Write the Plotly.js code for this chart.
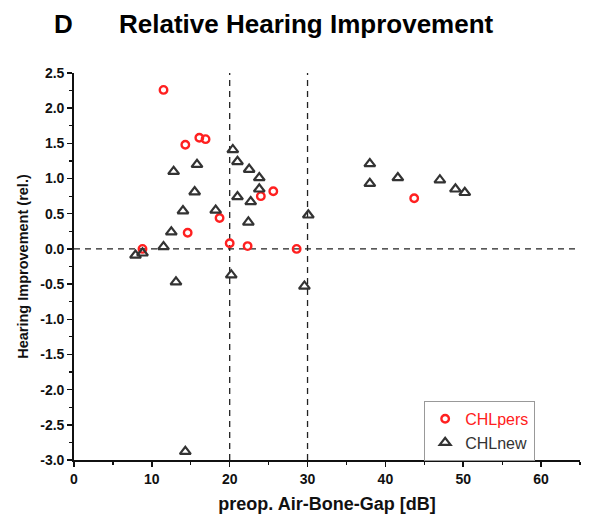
<!DOCTYPE html>
<html>
<head>
<meta charset="utf-8">
<script src="https://cdn.plot.ly/plotly-3.0.1.min.js"></script>
<style>html,body{margin:0;padding:0;background:#fff;}#chart{width:592px;height:522px;}</style>
</head>
<body>
<div id="chart"></div>
<script>
// CHLpers (red circles)
const persX = [11.5, 14.3, 16.1, 16.9, 18.7, 14.6, 20.0, 22.3, 24.0, 25.6, 28.6, 43.7, 8.8];
const persY = [2.26, 1.48, 1.58, 1.56, 0.44, 0.23, 0.08, 0.04, 0.75, 0.82, 0.00, 0.72, 0.00];
// CHLnew (triangles)
const newX = [20.4, 21.0, 15.8, 12.8, 22.5, 23.8, 23.8, 15.5, 21.0, 22.7, 14.0, 18.2, 22.4, 30.1, 12.5, 11.5, 20.2, 13.1, 29.6, 7.9, 8.8, 14.3, 38.0, 38.0, 41.6, 47.0, 49.0, 50.2];
const newY = [1.41, 1.24, 1.20, 1.10, 1.13, 1.01, 0.85, 0.81, 0.74, 0.67, 0.54, 0.55, 0.38, 0.48, 0.24, 0.03, -0.37, -0.47, -0.53, -0.09, -0.06, -2.88, 1.21, 0.93, 1.01, 0.98, 0.85, 0.80];
// reference lines
const refX = [20, 30];
const refY = [0];
// ticks
const xTickVals = [0, 10, 20, 30, 40, 50, 60];
const xTickText = ['0', '10', '20', '30', '40', '50', '60'];
const yTickVals = [2.5, 2.0, 1.5, 1.0, 0.5, 0.0, -0.5, -1.0, -1.5, -2.0, -2.5, -3.0];
const yTickText = ['2.5', '2.0', '1.5', '1.0', '0.5', '0.0', '-0.5', '-1.0', '-1.5', '-2.0', '-2.5', '-3.0'];

const xRange = [0, 65];
const yRange = [-3, 2.5];
const FONT = 'Liberation Sans, Arial, sans-serif';

const traces = [
  {
    x: persX, y: persY, type: 'scatter', mode: 'markers',
    name: '<span style="color:#ff2020">CHLpers</span>',
    marker: {symbol: 'circle-open', size: 7.5, color: '#ff2020', line: {width: 2.4, color: '#ff2020'}},
    cliponaxis: false
  },
  {
    x: newX, y: newY, type: 'scatter', mode: 'markers',
    name: '<span style="color:#333333">CHLnew</span>',
    marker: {symbol: 'triangle-up-open', size: 9.5, color: '#333333', line: {width: 2.2, color: '#333333'}},
    cliponaxis: false
  }
];

const shapes = [];
refX.forEach(v => shapes.push({type: 'line', xref: 'x', yref: 'y', x0: v, x1: v, y0: yRange[0], y1: yRange[1], line: {color: '#222', width: 1.3, dash: '6px,5px'}, layer: 'below'}));
refY.forEach(v => shapes.push({type: 'line', xref: 'x', yref: 'y', x0: xRange[0], x1: xRange[1], y0: v, y1: v, line: {color: '#222', width: 1.3, dash: '6px,5px'}, layer: 'below'}));

const layout = {
  width: 592, height: 522,
  margin: {l: 74, r: 12, t: 73, b: 62},
  paper_bgcolor: '#fff', plot_bgcolor: '#fff',
  font: {family: FONT, color: '#111'},
  showlegend: true,
  legend: {
    x: 0.692, y: 0.153, xanchor: 'left', yanchor: 'top',
    bgcolor: '#fff', bordercolor: '#999', borderwidth: 1,
    font: {family: FONT, size: 16, color: '#333'},
    itemwidth: 30, tracegroupgap: 0
  },
  xaxis: {
    range: xRange, showgrid: false, zeroline: false,
    showline: true, linecolor: '#111', linewidth: 1.8,
    ticks: 'outside', ticklen: 5, tickwidth: 1.5, tickcolor: '#111',
    tickmode: 'array', tickvals: xTickVals, ticktext: xTickText,
    tickfont: {family: FONT, size: 14, color: '#111', weight: 'bold'},
    minor: {ticks: 'outside', ticklen: 3, tickwidth: 1.2, tickcolor: '#111', dtick: 5, tick0: 0},
    title: {text: '<b>preop. Air-Bone-Gap [dB]</b>', font: {family: FONT, size: 18, color: '#111'}, standoff: 12}
  },
  yaxis: {
    range: yRange, showgrid: false, zeroline: false,
    showline: true, linecolor: '#111', linewidth: 1.8,
    ticks: 'outside', ticklen: 5, tickwidth: 1.5, tickcolor: '#111',
    tickmode: 'array', tickvals: yTickVals, ticktext: yTickText,
    tickfont: {family: FONT, size: 14, color: '#111', weight: 'bold'},
    minor: {ticks: 'outside', ticklen: 3, tickwidth: 1.2, tickcolor: '#111', dtick: 0.25, tick0: 0},
    title: {text: '<b>Hearing Improvement (rel.)</b>', font: {family: FONT, size: 14.5, color: '#111'}, standoff: 8}
  },
  shapes: shapes,
  annotations: [
    {text: '<b>D</b>', xref: 'paper', yref: 'paper', x: -0.044, y: 1.127, xanchor: 'left', yanchor: 'middle', showarrow: false, font: {family: FONT, size: 26, color: '#000'}},
    {text: '<b>Relative Hearing Improvement</b>', xref: 'paper', yref: 'paper', x: 0.085, y: 1.127, xanchor: 'left', yanchor: 'middle', showarrow: false, font: {family: FONT, size: 26, color: '#000'}}
  ]
};

Plotly.newPlot('chart', traces, layout, {displayModeBar: false, staticPlot: true});
</script>
</body>
</html>
